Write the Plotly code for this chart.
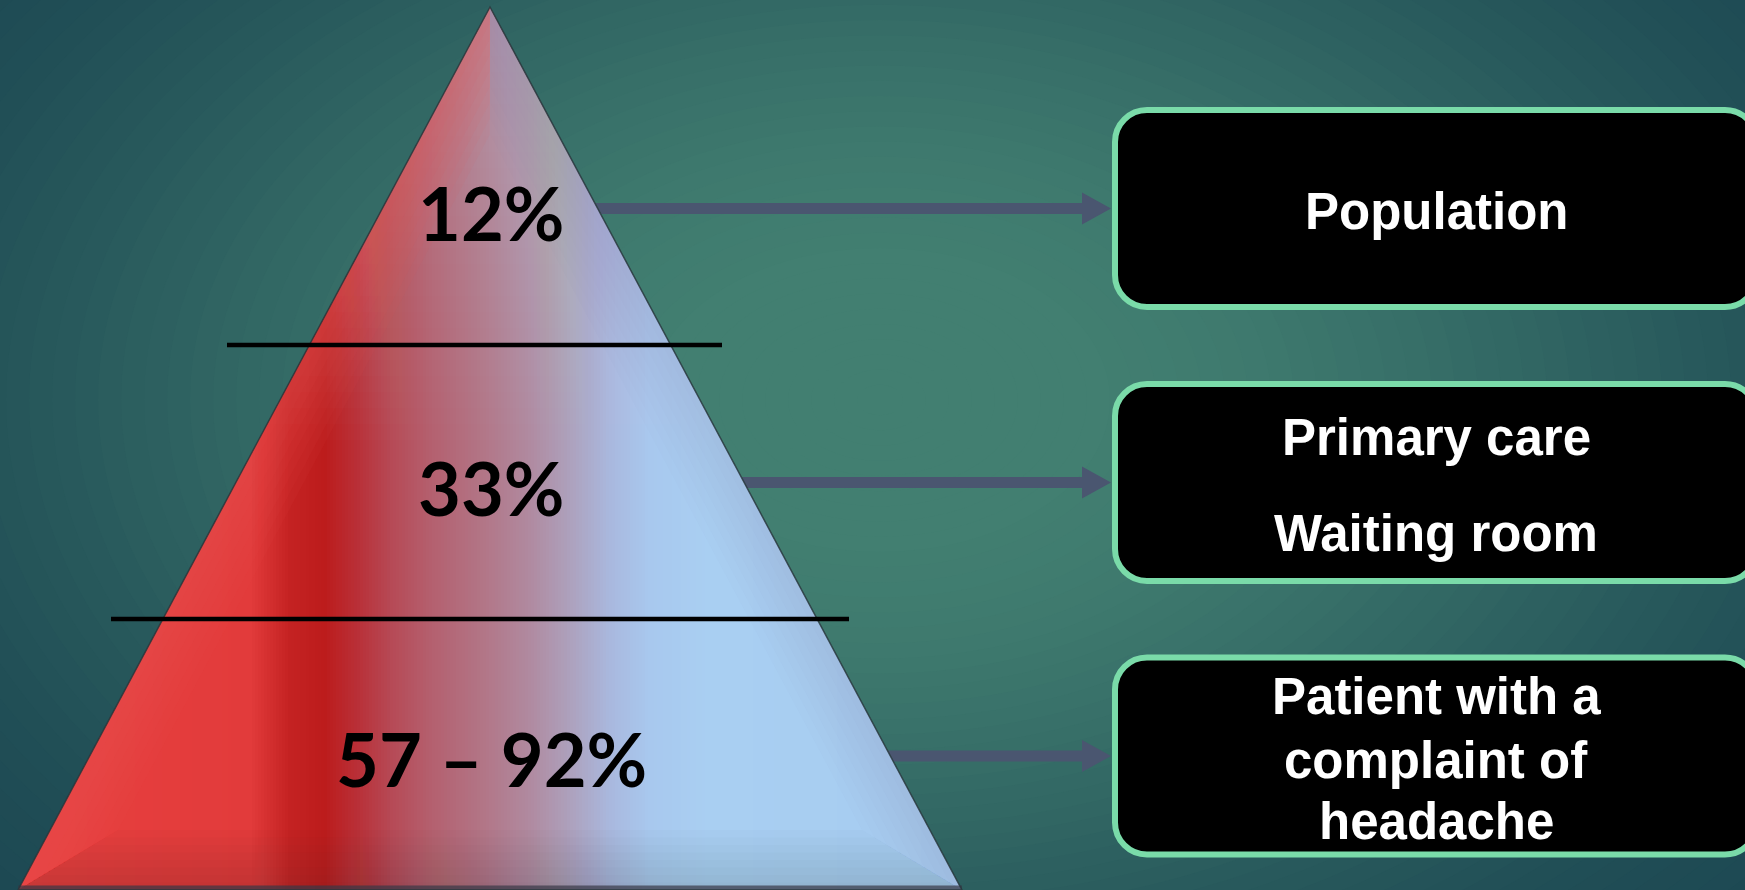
import numpy as np
import plotly.graph_objects as go

# ---------------- data ----------------
level_labels = ["12%", "33%", "57 – 92%"]
box_lines = [
    ["Population"],
    ["Primary care", "Waiting room"],
    ["Patient with a", "complaint of", "headache"],
]

# ---------------- layout constants ----------------
W, H = 1745, 890
APEX_X, APEX_Y = 490.0, 7.0
BL_X, BR_X, BASE_Y = 18.0, 962.0, 890.0
BEVEL = 60.0
divider_y = [345, 619]
divider_x = [(227, 722), (111, 849)]
label_y = [212, 487, 758]
box_cy = [208.5, 482.5, 756.0]
box_half_h = 98.5
box_x0, box_x1 = 1115, 1757
box_line_y = [[211], [437, 533], [696, 760, 821]]
text_x = 1436

ARROW_COL = "#4A5670"
BORDER_COL = "#7ADBA9"


def hex2rgb(h):
    h = h.lstrip("#")
    return np.array([int(h[i:i + 2], 16) for i in (0, 2, 4)], dtype=float)


def rgb(c):
    c = np.clip(np.round(c), 0, 255).astype(int)
    return "rgb(%d,%d,%d)" % tuple(c)


def interp_stops(stops, x):
    xs = [s[0] for s in stops]
    cols = [hex2rgb(s[1]) for s in stops]
    if x <= xs[0]:
        return cols[0]
    if x >= xs[-1]:
        return cols[-1]
    for i in range(len(xs) - 1):
        if xs[i] <= x <= xs[i + 1]:
            t = (x - xs[i]) / (xs[i + 1] - xs[i])
            return cols[i] * (1 - t) + cols[i + 1] * t


def xl(y):
    return APEX_X - (y - APEX_Y) * (APEX_X - BL_X) / (BASE_Y - APEX_Y)


def xr(y):
    return APEX_X + (y - APEX_Y) * (BR_X - APEX_X) / (BASE_Y - APEX_Y)


def ytop(x):
    if x <= APEX_X:
        return APEX_Y + (APEX_X - x) / (APEX_X - BL_X) * (BASE_Y - APEX_Y)
    return APEX_Y + (x - APEX_X) / (BR_X - APEX_X) * (BASE_Y - APEX_Y)


def poly(pts):
    return "M " + " L ".join("%.2f,%.2f" % p for p in pts) + " Z"


def rounded_rect(x0, y0, x1, y1, r):
    k = 0.5523 * r
    return (
        f"M {x0 + r},{y0} L {x1 - r},{y0} "
        f"C {x1 - r + k},{y0} {x1},{y0 + r - k} {x1},{y0 + r} "
        f"L {x1},{y1 - r} "
        f"C {x1},{y1 - r + k} {x1 - r + k},{y1} {x1 - r},{y1} "
        f"L {x0 + r},{y1} "
        f"C {x0 + r - k},{y1} {x0},{y1 - r + k} {x0},{y1 - r} "
        f"L {x0},{y0 + r} "
        f"C {x0},{y0 + r - k} {x0 + r - k},{y0} {x0 + r},{y0} Z"
    )


shapes = []

# ---------------- background radial glow ----------------
BG_LIGHT = hex2rgb("#427F71")
BG_DARK = hex2rgb("#1D4953")
CX, CY, RX, RY = 880, 400, 1150, 760
for t in np.linspace(1.2, 0.02, 60):
    s = np.clip((t - 0.15) / 0.9, 0, 1)
    s = s * s * (3 - 2 * s)
    col = BG_LIGHT * (1 - s) + BG_DARK * s
    shapes.append(dict(type="circle", xref="x", yref="y", layer="below",
                       x0=CX - RX * t, x1=CX + RX * t, y0=CY - RY * t, y1=CY + RY * t,
                       fillcolor=rgb(col), line=dict(width=0)))

# ---------------- arrows (behind the pyramid) ----------------
for cy in box_cy:
    xs = xr(cy) - 6
    hx0, hx1 = 1082, 1111
    pts = [(xs, cy - 5.5), (hx0, cy - 5.5), (hx0, cy - 16), (hx1, cy),
           (hx0, cy + 16), (hx0, cy + 5.5), (xs, cy + 5.5)]
    shapes.append(dict(type="path", xref="x", yref="y", path=poly(pts),
                       fillcolor=ARROW_COL, line=dict(width=0)))

# ---------------- pyramid body: horizontal colour gradient ----------------
grad_stops = [
    (18, "#E8403F"), (250, "#E23B3B"), (290, "#C42222"), (325, "#BC1C1C"),
    (358, "#B93038"), (392, "#B64A56"), (432, "#B4606F"), (482, "#B27586"),
    (530, "#B08AA0"), (572, "#ADA2BE"), (610, "#A9B8DE"), (650, "#A8C8EE"),
    (710, "#A9CFF2"), (962, "#A6CCF0"),
]
step = 3.0
x = BL_X
while x < BR_X:
    x0 = x
    x1 = min(x + step + 1.0, BR_X)
    pts = [(x0, ytop(x0))]
    if x0 < APEX_X < x1:
        pts.append((APEX_X, APEX_Y))
    pts += [(x1, ytop(x1)), (x1, BASE_Y), (x0, BASE_Y)]
    col = interp_stops(grad_stops, x0 + step / 2)
    shapes.append(dict(type="path", xref="x", yref="y", path=poly(pts),
                       fillcolor=rgb(col), line=dict(width=0)))
    x += step

# top highlight (nested translucent triangles)
for yk in np.linspace(40, 440, 26):
    shapes.append(dict(type="path", xref="x", yref="y",
                       path=poly([(APEX_X, APEX_Y), (xr(yk), yk), (xl(yk), yk)]),
                       fillcolor="white", opacity=0.012, line=dict(width=0)))

# soft bevel facets (nested layers -> fade inward)
half = np.arctan((APEX_X - BL_X) / (BASE_Y - APEX_Y))


def inner(w):
    ay = APEX_Y + w / np.sin(half)
    by = BASE_Y - w
    il = xl(by) + w / np.cos(half)
    ir = xr(by) - w / np.cos(half)
    return ay, by, il, ir


NL = 8
for k in range(NL):
    w = BEVEL * (k + 1) / NL
    ay, by, il, ir = inner(w)
    shapes.append(dict(type="path", xref="x", yref="y",
                       path=poly([(APEX_X, APEX_Y), (BL_X, BASE_Y), (il, by), (APEX_X, ay)]),
                       fillcolor="rgb(236,80,90)", opacity=0.06, line=dict(width=0)))
    shapes.append(dict(type="path", xref="x", yref="y",
                       path=poly([(APEX_X, APEX_Y), (BR_X, BASE_Y), (ir, by), (APEX_X, ay)]),
                       fillcolor="rgb(120,140,180)", opacity=0.025, line=dict(width=0)))
    shapes.append(dict(type="path", xref="x", yref="y",
                       path=poly([(BL_X, BASE_Y), (BR_X, BASE_Y), (ir, by), (il, by)]),
                       fillcolor="rgb(60,50,70)", opacity=0.02, line=dict(width=0)))
# bottom dark rim
shapes.append(dict(type="line", xref="x", yref="y", x0=BL_X, x1=BR_X, y0=BASE_Y - 2, y1=BASE_Y - 2,
                   line=dict(color="rgba(55,55,70,0.7)", width=5)))
# outline
shapes.append(dict(type="path", xref="x", yref="y",
                   path=poly([(APEX_X, APEX_Y), (BR_X, BASE_Y), (BL_X, BASE_Y)]),
                   fillcolor="rgba(0,0,0,0)", line=dict(color="rgba(40,55,60,0.85)", width=1.5)))

# divider lines
for y, (xa, xb) in zip(divider_y, divider_x):
    shapes.append(dict(type="line", xref="x", yref="y", x0=xa, x1=xb, y0=y, y1=y,
                       line=dict(color="black", width=4.5)))

# ---------------- boxes ----------------
for cy in box_cy:
    shapes.append(dict(type="path", xref="x", yref="y",
                       path=rounded_rect(box_x0, cy - box_half_h, box_x1, cy + box_half_h, 32),
                       fillcolor="black", line=dict(color=BORDER_COL, width=6)))

# ---------------- text ----------------
annotations = []
for lab, y in zip(level_labels, label_y):
    annotations.append(dict(x=APEX_X + 1, y=y, xref="x", yref="y", text=lab, showarrow=False,
                            xanchor="center", yanchor="middle",
                            font=dict(family="Lato, Open Sans, sans-serif", size=74,
                                      color="black", weight="bold")))
for lines, ys in zip(box_lines, box_line_y):
    for ln, y in zip(lines, ys):
        annotations.append(dict(x=text_x, y=y, xref="x", yref="y", text=ln, showarrow=False,
                                xanchor="center", yanchor="middle",
                                font=dict(family="Liberation Sans, Arial, sans-serif", size=51,
                                          color="white", weight="bold")))

fig = go.Figure()
fig.add_trace(go.Scatter(x=[0, W], y=[0, H], mode="markers", marker=dict(opacity=0),
                         hoverinfo="skip", showlegend=False))
fig.update_layout(
    width=W, height=H, autosize=False,
    margin=dict(l=0, r=0, t=0, b=0, pad=0),
    paper_bgcolor="#1D4953", plot_bgcolor="#1D4953",
    xaxis=dict(range=[0, W], visible=False, fixedrange=True),
    yaxis=dict(range=[H, 0], visible=False, fixedrange=True),
    shapes=shapes, annotations=annotations, showlegend=False,
)
fig.write_html("out.html", include_plotlyjs=True, config={"displayModeBar": False})
